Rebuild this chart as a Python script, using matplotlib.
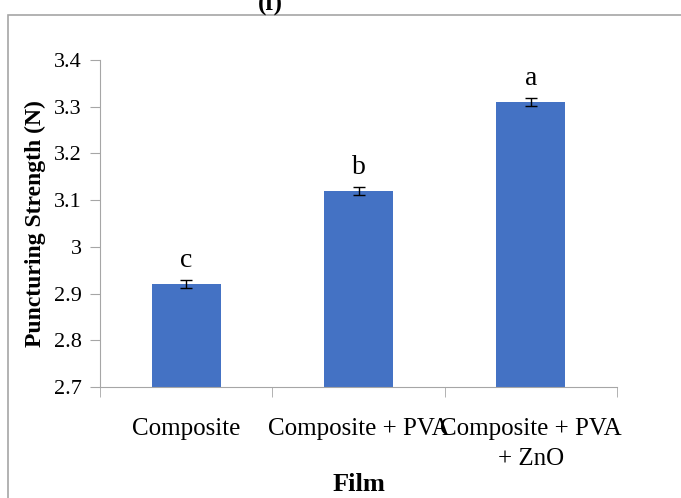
import matplotlib.pyplot as plt
import matplotlib.patches as mpatches
import numpy as np

films = ["Composite", "Composite + PVA", "Composite + PVA\n+ ZnO"]
strength = [2.92, 3.12, 3.31]
errors = [0.008, 0.009, 0.009]
letters = ["c", "b", "a"]
yticks = [2.7, 2.8, 2.9, 3.0, 3.1, 3.2, 3.3, 3.4]
ytick_labels = ["2.7", "2.8", "2.9", "3", "3.1", "3.2", "3.3", "3.4"]

plt.rcParams['font.family'] = ['Liberation Serif', 'DejaVu Serif']

fig = plt.figure(figsize=(6.81, 4.98), dpi=100)
ax = fig.add_axes([100 / 681, 1 - 387 / 498, 517 / 681, 327 / 498])

x = np.arange(len(films))
ax.bar(x, strength, width=0.4, color="#4472c4", zorder=2)
ax.errorbar(x, strength, yerr=errors, fmt="none", ecolor="black",
            elinewidth=1, capsize=4, capthick=1, zorder=3)
for xi, v, lab in zip(x, strength, letters):
    ax.text(xi, v + 0.05, lab, ha="center", va="center", fontsize=20)

ax.set_xlim(-0.5, 2.5)
ax.set_ylim(2.7, 3.4)
ax.set_yticks(yticks)
ax.set_yticklabels(ytick_labels, fontsize=16)
ax.set_xticks(x)
ax.set_xticklabels(films, fontsize=18, linespacing=1.5)
ax.set_xticks([-0.5, 0.5, 1.5, 2.5], minor=True)
ax.tick_params(axis="x", which="major", length=0, pad=22)
ax.tick_params(axis="x", which="minor", length=7, color="#a6a6a6")
ax.tick_params(axis="y", length=7, color="#a6a6a6", pad=6)

for s in ["top", "right"]:
    ax.spines[s].set_visible(False)
for s in ["left", "bottom"]:
    ax.spines[s].set_color("#a6a6a6")

ax.set_ylabel("Puncturing Strength (N)", fontsize=17, fontweight="bold", labelpad=6)
ax.set_xlabel("Film", fontsize=19, fontweight="bold", labelpad=2)

# outer chart frame
fig.patches.append(mpatches.Rectangle((8 / 681, -0.05), 1.0, 1 - 15 / 498 + 0.05,
                                      transform=fig.transFigure, fill=False,
                                      edgecolor="#a6a6a6", linewidth=1.2))
fig.text(270 / 681, 1 - 3 / 498, "(f)", ha="center", va="center",
         fontsize=18, fontweight="bold")

fig.savefig("out.png", dpi=100)
